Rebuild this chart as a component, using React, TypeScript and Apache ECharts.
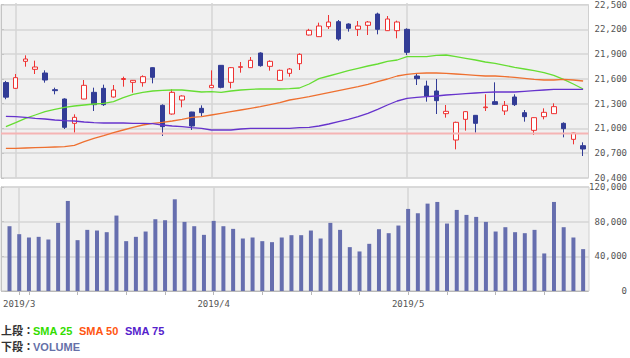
import React, { useEffect, useRef } from "react";
import * as echarts from "echarts";

const dates = [
  "2019/2/28",
  "2019/3/1", "2019/3/4", "2019/3/5", "2019/3/6", "2019/3/7", "2019/3/8", "2019/3/11", "2019/3/12", "2019/3/13", "2019/3/14",
  "2019/3/15", "2019/3/18", "2019/3/19", "2019/3/20", "2019/3/22", "2019/3/25", "2019/3/26", "2019/3/27", "2019/3/28", "2019/3/29",
  "2019/4/1", "2019/4/2", "2019/4/3", "2019/4/4", "2019/4/5", "2019/4/8", "2019/4/9", "2019/4/10", "2019/4/11", "2019/4/12",
  "2019/4/15", "2019/4/16", "2019/4/17", "2019/4/18", "2019/4/19", "2019/4/22", "2019/4/23", "2019/4/24", "2019/4/25", "2019/4/26",
  "2019/5/7", "2019/5/8", "2019/5/9", "2019/5/10", "2019/5/13", "2019/5/14", "2019/5/15", "2019/5/16", "2019/5/17",
  "2019/5/20", "2019/5/21", "2019/5/22", "2019/5/23", "2019/5/24", "2019/5/27", "2019/5/28", "2019/5/29", "2019/5/30", "2019/5/31",
];

const openV = [21545, 21476, 21800, 21704, 21660, 21460, 21348, 21056, 21348, 21428, 21476, 21372, 21582, 21548, 21544, 21724, 21272, 21168, 21336, 21192, 21236, 21484, 21752, 21548, 21728, 21724, 21900, 21740, 21572, 21656, 21772, 22116, 22096, 22216, 22276, 22248, 22184, 22232, 22368, 22168, 22168, 22184, 21624, 21504, 21444, 21172, 20856, 21104, 21152, 21244, 21316, 21204, 21372, 21184, 20972, 21136, 21172, 21056, 20864, 20788];
const highV = [21565, 21648, 21872, 21808, 21692, 21484, 21356, 21164, 21576, 21484, 21520, 21516, 21616, 21576, 21632, 21728, 21284, 21464, 21392, 21195, 21272, 21692, 21756, 21732, 21792, 21852, 21908, 21812, 21700, 21720, 21896, 22190, 22264, 22356, 22296, 22256, 22284, 22284, 22384, 22344, 22288, 22196, 21648, 21568, 21588, 21276, 21076, 21204, 21156, 21404, 21548, 21324, 21404, 21216, 21128, 21236, 21296, 21068, 20944, 20828];
const lowV = [21345, 21470, 21736, 21648, 21544, 21404, 20988, 20944, 21345, 21204, 21265, 21365, 21496, 21424, 21496, 21536, 20904, 21160, 21248, 20976, 21144, 21480, 21476, 21476, 21664, 21720, 21736, 21688, 21568, 21616, 21696, 22110, 22092, 22188, 22048, 22156, 22104, 22116, 22124, 22164, 22076, 21876, 21516, 21316, 21168, 21124, 20744, 20968, 20944, 21204, 21280, 21156, 21264, 21076, 20916, 21104, 21168, 20888, 20804, 20664];
const closeV = [21370, 21604, 21828, 21732, 21576, 21448, 21008, 21128, 21512, 21280, 21280, 21456, 21594, 21572, 21616, 21608, 21016, 21428, 21384, 21024, 21184, 21512, 21488, 21724, 21736, 21812, 21748, 21800, 21692, 21708, 21884, 22172, 22224, 22272, 22068, 22196, 22224, 22272, 22184, 22308, 22272, 21908, 21592, 21384, 21328, 21200, 21068, 21196, 21056, 21252, 21284, 21272, 21280, 21136, 21124, 21188, 21256, 20992, 20940, 20748];

const sma25 = [21016, 21064, 21116, 21156, 21196, 21224, 21248, 21264, 21276, 21288, 21296, 21316, 21364, 21404, 21428, 21444, 21452, 21456, 21456, 21444, 21432, 21436, 21428, 21444, 21456, 21464, 21468, 21468, 21468, 21472, 21480, 21528, 21592, 21624, 21656, 21688, 21716, 21744, 21768, 21800, 21816, 21856, 21856, 21856, 21872, 21876, 21856, 21836, 21816, 21792, 21776, 21752, 21728, 21708, 21688, 21664, 21632, 21584, 21528, 21468];
const sma50 = [20756, 20756, 20760, 20764, 20768, 20772, 20776, 20792, 20836, 20876, 20908, 20944, 20976, 21008, 21036, 21056, 21068, 21084, 21104, 21128, 21136, 21156, 21176, 21196, 21216, 21236, 21256, 21280, 21304, 21336, 21356, 21376, 21400, 21424, 21448, 21472, 21496, 21524, 21556, 21588, 21624, 21644, 21656, 21660, 21660, 21656, 21648, 21640, 21632, 21624, 21624, 21616, 21608, 21596, 21584, 21576, 21576, 21584, 21576, 21564];
const sma75 = [21140, 21136, 21128, 21116, 21108, 21096, 21088, 21084, 21072, 21064, 21060, 21060, 21060, 21056, 21056, 21052, 21036, 21024, 21016, 21004, 20996, 20976, 20976, 20976, 20988, 20996, 20996, 20996, 20996, 20996, 21004, 21008, 21024, 21048, 21076, 21104, 21136, 21176, 21224, 21276, 21324, 21356, 21368, 21376, 21384, 21396, 21404, 21412, 21420, 21428, 21432, 21432, 21432, 21440, 21448, 21456, 21464, 21464, 21464, 21464];

const volume = [74760, 65560, 61730, 62490, 59420, 78590, 103900, 58660, 70540, 69780, 67860, 87030, 57510, 62490, 68620, 82810, 81660, 105810, 79740, 74760, 64790, 80890, 74760, 71690, 60570, 61730, 57510, 56360, 61730, 64410, 64410, 69780, 60570, 78590, 70540, 50610, 45620, 54440, 71310, 66710, 75530, 94700, 89710, 100830, 102750, 77830, 93550, 87800, 85500, 79740, 68630, 73610, 67860, 66710, 70540, 43320, 102750, 73610, 61730, 48310];

const priceTicks = { min: 20400, max: 22500, interval: 300 };
const volumeTicks = { min: 0, max: 120000, interval: 40000 };
const refLine = 20940;

const legendTop = [
  { text: "上段：", color: "#333333" },
  { text: "SMA 25", color: "#33dd00" },
  { text: "SMA 50", color: "#ff5511" },
  { text: "SMA 75", color: "#5522cc" },
];
const legendBottom = [
  { text: "下段：", color: "#333333" },
  { text: "VOLUME", color: "#6670a8" },
];

const parseDate = (s: string) => {
  const [y, m, d] = s.split("/").map(Number);
  return new Date(Date.UTC(y, m - 1, d));
};
const monthStarts = new Set<number>();
const weekStarts = new Set<number>();
dates.forEach((s, i) => {
  if (i === 0) return;
  const a = parseDate(dates[i - 1]);
  const b = parseDate(s);
  if (a.getUTCMonth() !== b.getUTCMonth()) monthStarts.add(i);
  const wk = (d: Date) => Math.floor((d.getTime() / 86400000 + 3) / 7);
  if (wk(a) !== wk(b)) weekStarts.add(i);
});
const monthLines = [...monthStarts].map((i) => ({ xAxis: dates[i] }));

const MONO = '"DejaVu Sans Mono", monospace';
const GRID_LINE = "#d6d6d6";

export default function App() {
  const ref = useRef<HTMLDivElement>(null);
  useEffect(() => {
    if (!ref.current) return;
    const chart = echarts.init(ref.current, undefined, { renderer: "svg" });
    const candleData = dates.map((_, i) => [openV[i], closeV[i], lowV[i], highV[i]]);
    const markLineStyle = {
      silent: true,
      symbol: "none",
      z: 1,
      label: { show: false },
      lineStyle: { color: GRID_LINE, width: 1.5, type: "solid" },
      data: monthLines,
    };
    const legendEls: any[] = [];
    const addRow = (items: any[], y: number) => {
      const xs = [1, 33, 79, 125];
      items.forEach((it, k) => {
        legendEls.push({
          type: "text",
          x: xs[k],
          y,
          style: {
            text: it.text,
            fill: it.color,
            font: 'bold 11px "Liberation Sans", "Noto Sans CJK JP", sans-serif',
            verticalAlign: "middle",
          },
        });
      });
    };
    addRow(legendTop, 331);
    addRow(legendBottom, 347);

    chart.setOption({
      animation: false,
      backgroundColor: "#ffffff",
      grid: [
        { left: 1, top: 3, width: 591, height: 175, show: true, backgroundColor: "#f0f0f0", borderColor: "#d0d0d0", borderWidth: 1 },
        { left: 1, top: 3, width: 587, height: 175 },
        { left: 1, top: 187, width: 591, height: 104, show: true, backgroundColor: "#f0f0f0", borderColor: "#d0d0d0", borderWidth: 1 },
        { left: 1, top: 187, width: 587, height: 104 },
      ],
      xAxis: [
        { gridIndex: 0, type: "value", min: 0, max: 1, show: false },
        { gridIndex: 1, type: "category", data: dates, boundaryGap: true, show: false },
        { gridIndex: 2, type: "value", min: 0, max: 1, show: false },
        {
          gridIndex: 3,
          type: "category",
          data: dates,
          boundaryGap: true,
          axisLine: { show: true, lineStyle: { color: "#b8b8b8" } },
          axisTick: {
            show: true,
            alignWithLabel: true,
            length: 4,
            interval: (i: number) => weekStarts.has(i) || monthStarts.has(i),
            lineStyle: { color: "#b8b8b8" },
          },
          axisLabel: {
            interval: (i: number) => monthStarts.has(i),
            formatter: (v: string) => v.split("/").slice(0, 2).join("/"),
            fontFamily: MONO,
            fontSize: 9,
            color: "#555555",
            margin: 8,
          },
          splitLine: { show: false },
        },
      ],
      yAxis: [
        {
          gridIndex: 0,
          type: "value",
          position: "right",
          ...priceTicks,
          axisLine: { show: true, lineStyle: { color: "#c4c4c4" } },
          axisTick: { show: true, length: 3, lineStyle: { color: "#c4c4c4" } },
          splitLine: { show: true, lineStyle: { color: GRID_LINE, width: 1.5 } },
          axisLabel: { fontFamily: MONO, fontSize: 9, color: "#555555", margin: 6, align: "left" },
        },
        { gridIndex: 1, type: "value", min: priceTicks.min, max: priceTicks.max, show: false, splitLine: { show: false } },
        {
          gridIndex: 2,
          type: "value",
          position: "right",
          ...volumeTicks,
          axisLine: { show: true, lineStyle: { color: "#c4c4c4" } },
          axisTick: { show: true, length: 3, lineStyle: { color: "#c4c4c4" } },
          splitLine: { show: true, lineStyle: { color: GRID_LINE, width: 1.5 } },
          axisLabel: { fontFamily: MONO, fontSize: 9, color: "#555555", margin: 38, align: "right" },
        },
        { gridIndex: 3, type: "value", min: volumeTicks.min, max: volumeTicks.max, show: false, splitLine: { show: false } },
      ],
      series: [
        {
          type: "line",
          xAxisIndex: 0,
          yAxisIndex: 0,
          data: [[0, refLine], [1, refLine]],
          symbol: "none",
          lineStyle: { color: "#f5b4b4", width: 2 },
          silent: true,
        },
        {
          type: "candlestick",
          name: "price",
          xAxisIndex: 1,
          yAxisIndex: 1,
          data: candleData,
          barWidth: 5,
          itemStyle: {
            color: "#ffffff",
            color0: "#323c96",
            borderColor: "#ee3333",
            borderColor0: "#323c96",
            borderWidth: 1,
          },
          markLine: markLineStyle,
        },
        { type: "line", name: "SMA 25", xAxisIndex: 1, yAxisIndex: 1, data: sma25, symbol: "none", lineStyle: { color: "#66dd33", width: 1.3 } },
        { type: "line", name: "SMA 50", xAxisIndex: 1, yAxisIndex: 1, data: sma50, symbol: "none", lineStyle: { color: "#ee7030", width: 1.3 } },
        { type: "line", name: "SMA 75", xAxisIndex: 1, yAxisIndex: 1, data: sma75, symbol: "none", lineStyle: { color: "#6633cc", width: 1.3 } },
        {
          type: "bar",
          name: "VOLUME",
          xAxisIndex: 3,
          yAxisIndex: 3,
          data: volume,
          barWidth: 4,
          itemStyle: { color: "#666eae" },
          markLine: markLineStyle,
        },
      ],
      graphic: legendEls,
    });
    return () => chart.dispose();
  }, []);
  return (
    <div
      ref={ref}
      style={{ position: "fixed", left: 0, top: 0, width: 630, height: 358 }}
    />
  );
}
